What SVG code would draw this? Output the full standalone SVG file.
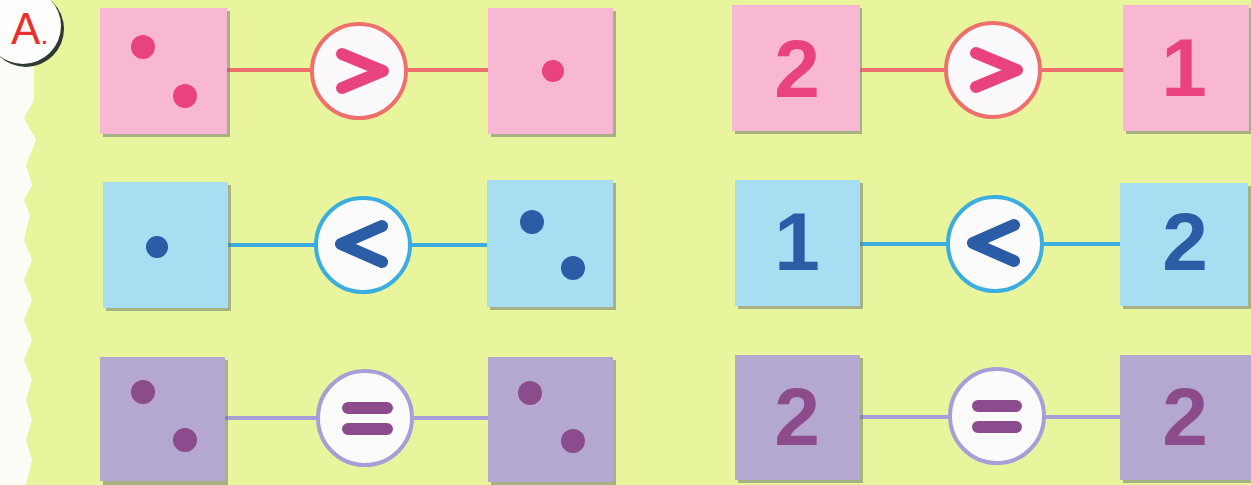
<svg xmlns="http://www.w3.org/2000/svg" width="1251" height="485" viewBox="0 0 1251 485">
<style>
.pk{fill:#f8b8d4}.bl{fill:#a8def2}.pu{fill:#b5a8d0}
.sh{fill:#6f7a70;opacity:.55}
.dpk{fill:#e8437f}.dbl{fill:#2b5ca6}.dpu{fill:#8c4b8c}
.lpk{stroke:#ef6f6c;stroke-width:4}.lbl{stroke:#3badde;stroke-width:4}.lpu{stroke:#a69ed6;stroke-width:4}
.cpk{fill:#fbf9fb;stroke:#ef6f6c;stroke-width:4}.cbl{fill:#fbfbfb;stroke:#3badde;stroke-width:4}.cpu{fill:#fbfbfb;stroke:#a69ed6;stroke-width:4}
.num{font-family:"Liberation Sans",Arial,sans-serif;font-weight:bold;font-size:82px;text-anchor:middle}
.sym{fill:none;stroke-width:12;stroke-linecap:round;stroke-linejoin:round}
</style>
<rect width="1251" height="485" fill="#e8f59c"/>
<path d="M0,0 H34 L34,100 L24,118 L36,140 L26,165 L32,185 L24,200 L30,215 L24,240 L32,260 L24,280 L32,300 L24,320 L32,340 L24,360 L32,380 L26,400 L32,420 L26,440 L32,460 L26,485 H0 Z" fill="#fdfdf8"/>
<g id="label-A">
<circle cx="26" cy="29" r="38" fill="#2e3a30"/>
<circle cx="23" cy="26" r="38" fill="#fdfdfb"/>
<text x="11" y="44" font-family="Liberation Sans,Arial,sans-serif" font-size="44" fill="#e8302f">A<tspan font-size="30">.</tspan></text>
</g>
<g id="connectors">
<line class="lpk" x1="227" y1="70" x2="488" y2="70"/>
<line class="lpk" x1="860" y1="70" x2="1125" y2="70"/>
<line class="lbl" x1="227" y1="245" x2="487" y2="245"/>
<line class="lbl" x1="860" y1="244" x2="1120" y2="244"/>
<line class="lpu" x1="225" y1="418" x2="488" y2="418"/>
<line class="lpu" x1="860" y1="417" x2="1120" y2="417"/>
</g>
<g id="r1-left"><rect class="sh" x="103" y="11" width="127" height="126"/><rect class="pk" x="100" y="8" width="127" height="126"/><circle class="dpk" cx="143" cy="47" r="12"/><circle class="dpk" cx="185" cy="96" r="12"/></g>
<g id="r1-sign"><circle class="cpk" cx="359" cy="71" r="47"/><path class="sym" stroke="#e8437f" d="M342,54 L383,71 L342,88"/></g>
<g id="r1-right"><rect class="sh" x="491" y="11" width="125" height="126"/><rect class="pk" x="488" y="8" width="125" height="126"/><circle class="dpk" cx="553" cy="71" r="11"/></g>
<g id="r1-n2"><rect class="sh" x="735" y="8" width="127" height="126"/><rect class="pk" x="732" y="5" width="128" height="126"/><text class="num dpk" x="797" y="97">2</text></g>
<g id="r1n-sign"><circle class="cpk" cx="993" cy="70" r="47"/><path class="sym" stroke="#e8437f" d="M976,53 L1017,70 L976,87"/></g>
<g id="r1-n1"><rect class="sh" x="1126" y="8" width="125" height="126"/><rect class="pk" x="1123" y="5" width="126" height="126"/><text class="num dpk" x="1184" y="96">1</text></g>

<g id="r2-left"><rect class="sh" x="106" y="185" width="125" height="126"/><rect class="bl" x="103" y="182" width="125" height="126"/><circle class="dbl" cx="157" cy="247" r="11"/></g>
<g id="r2-sign"><circle class="cbl" cx="363" cy="245" r="47"/><path class="sym" stroke="#2b5ca6" d="M382,226 L341,244 L382,262"/></g>
<g id="r2-right"><rect class="sh" x="490" y="183" width="126" height="127"/><rect class="bl" x="487" y="180" width="126" height="127"/><circle class="dbl" cx="532" cy="222" r="12"/><circle class="dbl" cx="573" cy="268" r="12"/></g>
<g id="r2-n1"><rect class="sh" x="738" y="183" width="125" height="126"/><rect class="bl" x="735" y="180" width="125" height="126"/><text class="num dbl" x="797" y="270">1</text></g>
<g id="r2n-sign"><circle class="cbl" cx="995" cy="244" r="47"/><path class="sym" stroke="#2b5ca6" d="M1014,225 L973,243 L1014,261"/></g>
<g id="r2-n2"><rect class="sh" x="1123" y="186" width="128" height="123"/><rect class="bl" x="1120" y="183" width="128" height="123"/><text class="num dbl" x="1185" y="270">2</text></g>

<g id="r3-left"><rect class="sh" x="103" y="360" width="125" height="125"/><rect class="pu" x="100" y="357" width="125" height="124"/><circle class="dpu" cx="143" cy="392" r="12"/><circle class="dpu" cx="185" cy="440" r="12"/></g>
<g id="r3-sign"><circle class="cpu" cx="365" cy="418" r="47"/><path class="sym" stroke="#8c4b8c" stroke-width="10" d="M348,408 H387 M348,429 H387"/></g>
<g id="r3-right"><rect class="sh" x="491" y="360" width="125" height="125"/><rect class="pu" x="488" y="357" width="125" height="125"/><circle class="dpu" cx="530" cy="393" r="12"/><circle class="dpu" cx="573" cy="441" r="12"/></g>
<g id="r3-n2a"><rect class="sh" x="738" y="358" width="125" height="125"/><rect class="pu" x="735" y="355" width="125" height="125"/><text class="num dpu" x="797" y="445">2</text></g>
<g id="r3n-sign"><circle class="cpu" cx="997" cy="416" r="47"/><path class="sym" stroke="#8c4b8c" stroke-width="10" d="M978,406 H1016 M978,427 H1016"/></g>
<g id="r3-n2b"><rect class="sh" x="1123" y="358" width="128" height="125"/><rect class="pu" x="1120" y="355" width="131" height="125"/><text class="num dpu" x="1185" y="445">2</text></g>
</svg>
